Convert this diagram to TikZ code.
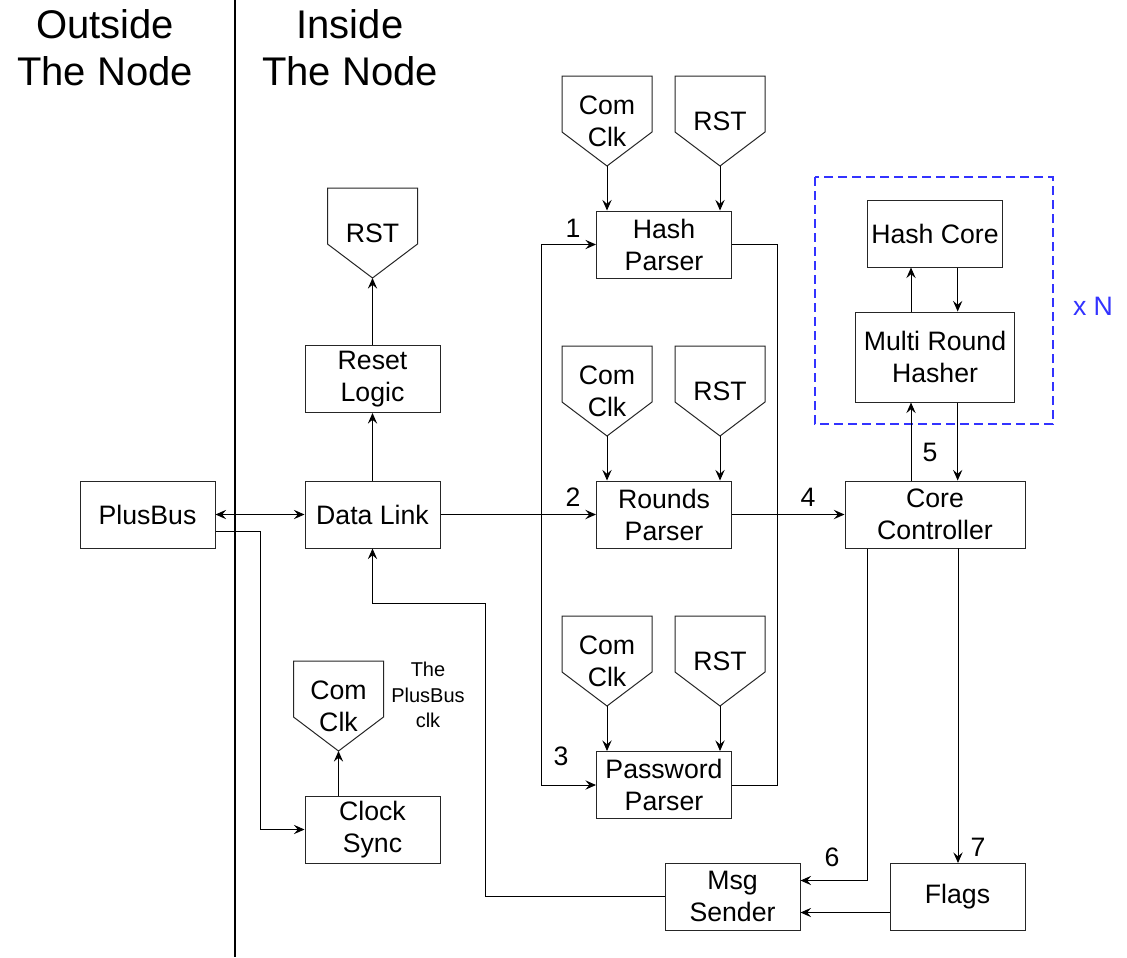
\documentclass[tikz,border=0pt]{standalone}
\usepackage{fontspec}
\setmainfont{Liberation Sans}
\usetikzlibrary{arrows.meta,calc}
\definecolor{nblue}{HTML}{3333FF}
\newcommand{\pentshape}[4]{%
  \draw[boxline] (#2-45,#3) -- (#2+45,#3) -- (#2+45,#3+56) -- (#2,#3+90) -- (#2-45,#3+56) -- cycle;
  \node[pentxt] (#1) at (#2,#3+45) {#4};
  \coordinate (#1-tip) at (#2,#3+90);
}
\tikzset{
  boxline/.style={draw=black!85, line width=0.75pt},
  box/.style={boxline, fill=white, align=center, minimum width=101.25pt, minimum height=50.25pt, inner sep=0pt, font=\fontsize{20}{24}\selectfont},
  pentxt/.style={align=center, inner sep=0pt, font=\fontsize{20}{24}\selectfont},
  lbl/.style={inner sep=0pt, font=\fontsize{20}{24}\selectfont},
  title/.style={align=center, inner sep=0pt, font=\fontsize{30}{35}\selectfont},
  tip/.tip={Stealth[length=8pt,width=7pt,inset=3pt]},
  arr/.style={-tip, line width=0.75pt},
  darr/.style={tip-tip, line width=0.75pt},
  ln/.style={line width=0.75pt},
}
\begin{document}
\begin{tikzpicture}[x=0.75pt,y=-0.75pt]
\useasboundingbox (0,0) rectangle (1127,957);
\fill[white] (0,0) rectangle (1127,957);

% divider and titles
\draw[line width=1.5pt] (235,0) -- (235,957);
\node[title] (tout) at (105,48) {Outside\\The Node};
\node[title] (tin) at (350,48) {Inside\\The Node};

% main boxes
\node[box] (pb) at (147.5,514.5) {PlusBus};
\node[box] (dl) at (372.5,514.5) {Data Link};
\node[box] (rl) at (372.5,379) {Reset\\Logic};
\node[box] (cs) at (372.5,829.5) {Clock\\Sync};
\node[box] (hp) at (664,244.5) {Hash\\Parser};
\node[box] (rp) at (664,514.5) {Rounds\\Parser};
\node[box] (pp) at (664,785) {Password\\Parser};
\node[box, minimum width=135pt] (cc) at (935,514.5) {Core\\Controller};
\node[box, minimum width=119pt, minimum height=67.5pt] (mr) at (935,357) {Multi Round\\Hasher};
\node[box] (hc) at (935,233.5) {Hash Core};
\node[box] (ms) at (732.5,896.5) {Msg\\Sender};
\node[box] (fl) at (957.5,896.5) {Flags};

% pentagons
\pentshape{rst0}{372.5}{188}{RST}
\pentshape{ck1}{607}{76}{Com\\Clk}
\pentshape{rst1}{720}{76}{RST}
\pentshape{ck2}{607}{346}{Com\\Clk}
\pentshape{rst2}{720}{346}{RST}
\pentshape{ck3}{607}{616}{Com\\Clk}
\pentshape{rst3}{720}{616}{RST}
\pentshape{ck4}{338.5}{661}{Com\\Clk}

\node[align=center, inner sep=0pt, font=\fontsize{15}{19}\selectfont] (pbclk) at (428,695) {The\\PlusBus\\clk};

% dashed group
\draw[nblue, line width=1.5pt, dash pattern=on 6.75pt off 3.75pt] (815,177) rectangle (1053,424);
\node[lbl, text=nblue] (xn) at (1093,306) {x N};

% connectors
\draw[darr] (pb.east) -- (dl.west);
\draw[arr] ([yshift=-12.4pt]pb.east) -| (260,829.5) -- (cs.west);
\draw[arr] (dl.north) -- (rl.south);
\draw[arr] (rl.north) -- (rst0-tip);
\draw[arr] (ck4-tip |- cs.north) -- (ck4-tip);

\foreach \p/\b in {ck1/hp,rst1/hp,ck2/rp,rst2/rp,ck3/pp,rst3/pp}{
  \draw[arr] (\p-tip) -- (\p-tip |- \b.north);
}

\coordinate (jl) at (541,514.5);
\coordinate (jr) at (777,514.5);
\draw[arr, line width=1.1pt] (dl.east) -- (rp.west);
\draw[arr] (jl) |- (hp.west);
\draw[arr] (jl) |- (pp.west);
\draw[ln] (hp.east) -| (jr);
\draw[ln] (pp.east) -| (jr);
\draw[ln] (rp.east) -- (jr);
\draw[arr, line width=1.1pt] (jr) -- (cc.west);

\draw[arr] ([xshift=-18pt]cc.north) -- ([xshift=-18pt]mr.south);
\draw[arr] ([xshift=17pt]mr.south) -- ([xshift=17pt]cc.north);
\draw[arr] ([xshift=-18pt]mr.north) -- ([xshift=-18pt]hc.south);
\draw[arr] ([xshift=17pt]hc.south) -- ([xshift=17pt]mr.north);

\draw[arr] ([xshift=-51pt]cc.south) |- ([yshift=12pt]ms.east);
\draw[arr] (958,548) -- (958,863);
\draw[arr] ([yshift=-12pt]fl.west) -- ([yshift=-12pt]ms.east);
\draw[arr] (ms.west) -| (485,603) -| (dl.south);

% labels
\node[lbl] (l1) at (573,228) {1};
\node[lbl] (l2) at (573,497) {2};
\node[lbl] (l3) at (561,756) {3};
\node[lbl] (l4) at (808,497) {4};
\node[lbl] (l5) at (930,452) {5};
\node[lbl] (l6) at (832,857) {6};
\node[lbl] (l7) at (978,847) {7};
\end{tikzpicture}
\end{document}
